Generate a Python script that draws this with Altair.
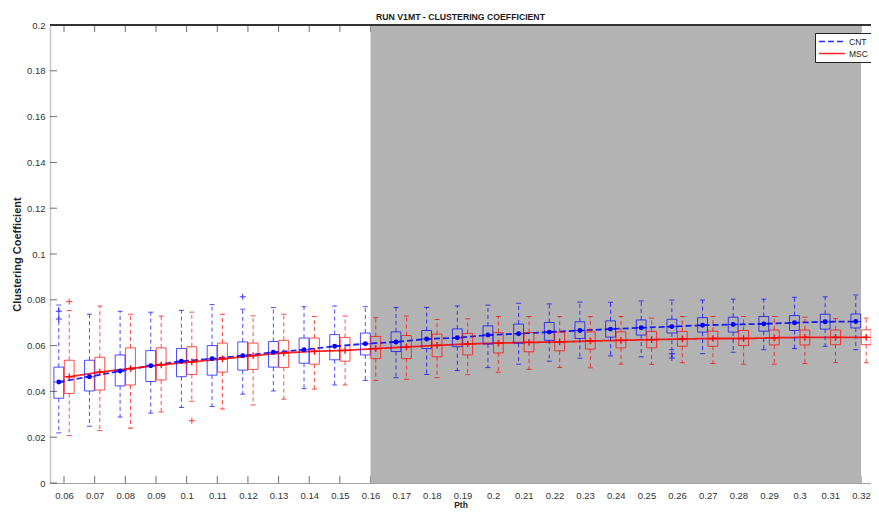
import altair as alt
import pandas as pd

# ---------------- data ----------------
pth = [0.06, 0.07, 0.08, 0.09, 0.10, 0.11, 0.12, 0.13, 0.14, 0.15, 0.16, 0.17, 0.18, 0.19,
       0.20, 0.21, 0.22, 0.23, 0.24, 0.25, 0.26, 0.27, 0.28, 0.29, 0.30, 0.31, 0.32]

cnt_whisk_hi = [0.0777, 0.0737, 0.0750, 0.0746, 0.0754, 0.0779, 0.0759, 0.0766, 0.0770, 0.0773,
                0.0770, 0.0767, 0.0767, 0.0773, 0.0777, 0.0785, 0.0782, 0.0790, 0.0789, 0.0795,
                0.0799, 0.0799, 0.0803, 0.0803, 0.0811, 0.0813, 0.0821]
cnt_q3 = [0.0506, 0.0536, 0.0559, 0.0578, 0.0587, 0.0600, 0.0616, 0.0618, 0.0633, 0.0648,
          0.0655, 0.0660, 0.0666, 0.0673, 0.0686, 0.0694, 0.0701, 0.0704, 0.0708, 0.0712,
          0.0715, 0.0722, 0.0724, 0.0727, 0.0731, 0.0737, 0.0738]
cnt_median = [0.0441, 0.0464, 0.0489, 0.0512, 0.0532, 0.0543, 0.0556, 0.0571, 0.0582, 0.0597,
              0.0608, 0.0616, 0.0629, 0.0634, 0.0646, 0.0652, 0.0659, 0.0666, 0.0672, 0.0678,
              0.0683, 0.0689, 0.0692, 0.0695, 0.0700, 0.0704, 0.0705]
cnt_mean = [0.0441, 0.0464, 0.0489, 0.0512, 0.0532, 0.0543, 0.0556, 0.0571, 0.0582, 0.0597,
            0.0608, 0.0616, 0.0629, 0.0634, 0.0646, 0.0652, 0.0659, 0.0666, 0.0672, 0.0678,
            0.0683, 0.0689, 0.0692, 0.0695, 0.0700, 0.0704, 0.0705]
cnt_q1 = [0.0370, 0.0402, 0.0424, 0.0443, 0.0464, 0.0471, 0.0493, 0.0506, 0.0523, 0.0538,
          0.0559, 0.0574, 0.0587, 0.0595, 0.0607, 0.0611, 0.0623, 0.0631, 0.0637, 0.0646,
          0.0655, 0.0659, 0.0659, 0.0663, 0.0666, 0.0672, 0.0677]
cnt_whisk_lo = [0.0219, 0.0248, 0.0288, 0.0305, 0.0330, 0.0334, 0.0388, 0.0402, 0.0412, 0.0428,
                0.0448, 0.0460, 0.0474, 0.0491, 0.0504, 0.0519, 0.0532, 0.0545, 0.0555, 0.0551,
                0.0582, 0.0565, 0.0571, 0.0582, 0.0587, 0.0597, 0.0582]

msc_whisk_hi = [0.0753, 0.0773, 0.0737, 0.0729, 0.0746, 0.0737, 0.0730, 0.0737, 0.0727, 0.0729,
                0.0722, 0.0729, 0.0714, 0.0717, 0.0727, 0.0727, 0.0727, 0.0727, 0.0727, 0.0720,
                0.0727, 0.0727, 0.0727, 0.0727, 0.0724, 0.0718, 0.0720]
msc_q3 = [0.0536, 0.0549, 0.0590, 0.0590, 0.0595, 0.0611, 0.0611, 0.0623, 0.0633, 0.0636,
          0.0640, 0.0644, 0.0650, 0.0653, 0.0657, 0.0657, 0.0659, 0.0660, 0.0660, 0.0662,
          0.0662, 0.0663, 0.0666, 0.0668, 0.0668, 0.0668, 0.0669]
msc_median = [0.0464, 0.0484, 0.0500, 0.0516, 0.0529, 0.0542, 0.0556, 0.0568, 0.0575, 0.0579,
              0.0587, 0.0594, 0.0601, 0.0607, 0.0611, 0.0614, 0.0616, 0.0620, 0.0623, 0.0626,
              0.0629, 0.0631, 0.0631, 0.0634, 0.0636, 0.0636, 0.0636]
msc_mean = [0.0464, 0.0484, 0.0500, 0.0516, 0.0529, 0.0542, 0.0556, 0.0568, 0.0575, 0.0579,
            0.0587, 0.0594, 0.0601, 0.0607, 0.0611, 0.0614, 0.0616, 0.0620, 0.0623, 0.0626,
            0.0629, 0.0631, 0.0631, 0.0634, 0.0636, 0.0636, 0.0636]
msc_q1 = [0.0391, 0.0406, 0.0428, 0.0450, 0.0474, 0.0484, 0.0496, 0.0504, 0.0519, 0.0532,
          0.0543, 0.0543, 0.0551, 0.0559, 0.0568, 0.0573, 0.0577, 0.0585, 0.0590, 0.0590,
          0.0597, 0.0597, 0.0600, 0.0603, 0.0603, 0.0604, 0.0604]
msc_whisk_lo = [0.0207, 0.0229, 0.0239, 0.0310, 0.0357, 0.0323, 0.0341, 0.0366, 0.0410, 0.0428,
                0.0448, 0.0453, 0.0460, 0.0473, 0.0484, 0.0496, 0.0504, 0.0503, 0.0519, 0.0518,
                0.0525, 0.0522, 0.0519, 0.0519, 0.0522, 0.0526, 0.0525]

out_group = ["CNT", "CNT", "CNT", "CNT", "CNT", "MSC", "MSC"]
out_pth = [0.06, 0.06, 0.12, 0.26, 0.26, 0.06, 0.10]
out_val = [0.0750, 0.0716, 0.0813, 0.0564, 0.0546, 0.0792, 0.0272]

groups = ["CNT", "MSC"]
colors = ["#0000ff", "#ff0000"]
y_ticks = [0, 0.02, 0.04, 0.06, 0.08, 0.10, 0.12, 0.14, 0.16, 0.18, 0.20]
shade_start = [0.16]
shade_end = [0.32]

TITLE = "RUN V1MT - CLUSTERING COEFFICIENT"
X_TITLE = "Pth"
Y_TITLE = "Clustering Coefficient"

# ---------------- build tables ----------------
OFF = {"CNT": -0.0017, "MSC": 0.0017}
HW = 0.0016
rows = []
for i, p in enumerate(pth):
    for g, wh, q3, md, mn, q1, wl in [
        ("CNT", cnt_whisk_hi, cnt_q3, cnt_median, cnt_mean, cnt_q1, cnt_whisk_lo),
        ("MSC", msc_whisk_hi, msc_q3, msc_median, msc_mean, msc_q1, msc_whisk_lo),
    ]:
        pos = p + OFF[g]
        rows.append(dict(group=g, pos=pos, lo=pos - HW, hi=pos + HW,
                         whi=wh[i], q3=q3[i], med=md[i], mean=mn[i], q1=q1[i], wlo=wl[i]))
box = pd.DataFrame(rows)
outl = pd.DataFrame(dict(group=out_group, pos=[p + OFF[g] for p, g in zip(out_pth, out_group)],
                         val=out_val))
xt = pd.DataFrame(dict(pth=pth))
yt = pd.DataFrame(dict(v=y_ticks))
shade = pd.DataFrame(dict(start=shade_start, end=shade_end))

W, H = 821, 458
FONT = "Liberation Sans"
PX = 797 / 26  # pixels per 0.01 step
TL = 7         # inward tick length

xscale = alt.Scale(domain=[0.06 - 14 / PX * 0.01, 0.32 + 10 / PX * 0.01], nice=False, zero=False)
yscale = alt.Scale(domain=[0, 0.2], nice=False, zero=False)
xaxis = alt.Axis(values=pth, format=".2~f", labelPadding=7, ticks=False, tickSize=0,
                 domainColor="#a0a0a0", grid=False, labelFlush=False, labelOverlap=False,
                 titleFontSize=8.5, titleFontWeight="bold", titlePadding=1, titleColor="#222")
yaxis = alt.Axis(values=y_ticks, format=".2~f", labelPadding=5, ticks=False, tickSize=0,
                 domainColor="#c8c8c8", domainWidth=1.5, grid=False, labelFlush=False,
                 titleFontSize=11, titleFontWeight="bold", titlePadding=4, titleColor="#222")


def X(f):
    return alt.X(f, type="quantitative", scale=xscale, axis=xaxis, title=X_TITLE)


def Y(f):
    return alt.Y(f, type="quantitative", scale=yscale, axis=yaxis, title=Y_TITLE)


legend = alt.Legend(title=None, orient="none", legendX=765, legendY=8, symbolType="stroke",
                    symbolSize=676, symbolStrokeWidth=1.5, labelFontSize=8.5, labelFont=FONT,
                    labelColor="#222", padding=3, rowPadding=1, clipHeight=11,
                    strokeColor="#262626", fillColor="white", labelOffset=3)
cscale = alt.Scale(domain=groups, range=colors)
C = alt.Color("group:N", scale=cscale, legend=legend)
dscale = alt.Scale(domain=groups, range=[[6, 3], [1, 0]])

tick_bottom = alt.Chart(xt).mark_tick(orient="vertical", size=TL, thickness=1, color="#333").encode(
    x=X("pth"), y=alt.value(H - TL / 2))
tick_top = alt.Chart(xt).mark_tick(orient="vertical", size=TL, thickness=1, color="#333").encode(
    x=X("pth"), y=alt.value(TL / 2))
tick_left = alt.Chart(yt).mark_tick(orient="horizontal", size=TL, thickness=1, color="#333").encode(
    y=Y("v"), x=alt.value(TL / 2))

gray = alt.Chart(shade).mark_rect(color="#b3b3b3").encode(
    x=X("start"), x2="end", y=alt.value(0), y2=alt.value(H))

base = alt.Chart(box)
mean_lines = base.mark_line(strokeWidth=1.8, opacity=0.85, clip=True).encode(
    x=X("pos"), y=Y("mean"), color=C,
    strokeDash=alt.StrokeDash("group:N", scale=dscale, legend=legend),
)
wh_up = base.mark_rule(strokeDash=[4, 3], strokeWidth=1, opacity=0.7, clip=True).encode(
    x=X("pos"), y=Y("q3"), y2="whi", color=C)
wh_dn = base.mark_rule(strokeDash=[4, 3], strokeWidth=1, opacity=0.7, clip=True).encode(
    x=X("pos"), y=Y("q1"), y2="wlo", color=C)
cap_up = base.mark_tick(orient="horizontal", size=5, thickness=1, opacity=0.7, clip=True).encode(
    x=X("pos"), y=Y("whi"), color=C)
cap_dn = base.mark_tick(orient="horizontal", size=5, thickness=1, opacity=0.7, clip=True).encode(
    x=X("pos"), y=Y("wlo"), color=C)
boxes = base.mark_rect(filled=False, strokeWidth=1, opacity=0.7, clip=True).encode(
    x=X("lo"), x2="hi", y=Y("q1"), y2="q3", color=C)
medians = base.mark_tick(orient="horizontal", size=10, thickness=1, opacity=0.7, clip=True).encode(
    x=X("pos"), y=Y("med"), color=C)

PLUS = "M-1,0H1M0,-1V1"
cnt_pts = base.transform_filter(alt.datum.group == "CNT").mark_point(
    shape="circle", filled=True, size=24, opacity=1, color="#0000ff", clip=True).encode(
    x=X("pos"), y=Y("mean"))
msc_pts = base.transform_filter(alt.datum.group == "MSC").mark_point(
    shape=PLUS, filled=False, size=45, strokeWidth=1.3, opacity=1, color="#ff0000",
    clip=True).encode(x=X("pos"), y=Y("mean"))
outliers = alt.Chart(outl).mark_point(shape=PLUS, filled=False, size=36, strokeWidth=1,
                                      opacity=0.8, clip=True).encode(
    x=X("pos"), y=Y("val"), color=C)
top_border = alt.Chart(xt).mark_rule(color="#333", strokeWidth=1).encode(
    x=alt.value(0), x2=alt.value(W), y=alt.value(0))

chart = alt.layer(
    tick_bottom, tick_top, tick_left, gray, mean_lines, wh_up, wh_dn, cap_up, cap_dn, boxes,
    medians, cnt_pts, msc_pts, outliers, top_border
).properties(
    width=W, height=H,
    title=alt.TitleParams(TITLE, fontSize=8.7, fontWeight="bold", color="#1a1a1a",
                          anchor="middle", offset=-2, font=FONT),
    autosize="none",
    padding={"left": 42, "top": 17, "right": 0, "bottom": 26},
).configure(font=FONT).configure_view(stroke=None).configure_axis(
    labelFont=FONT, titleFont=FONT, labelFontSize=9.5, labelColor="#333")

chart.save("out.html", embed_options={"renderer": "svg", "actions": False})
